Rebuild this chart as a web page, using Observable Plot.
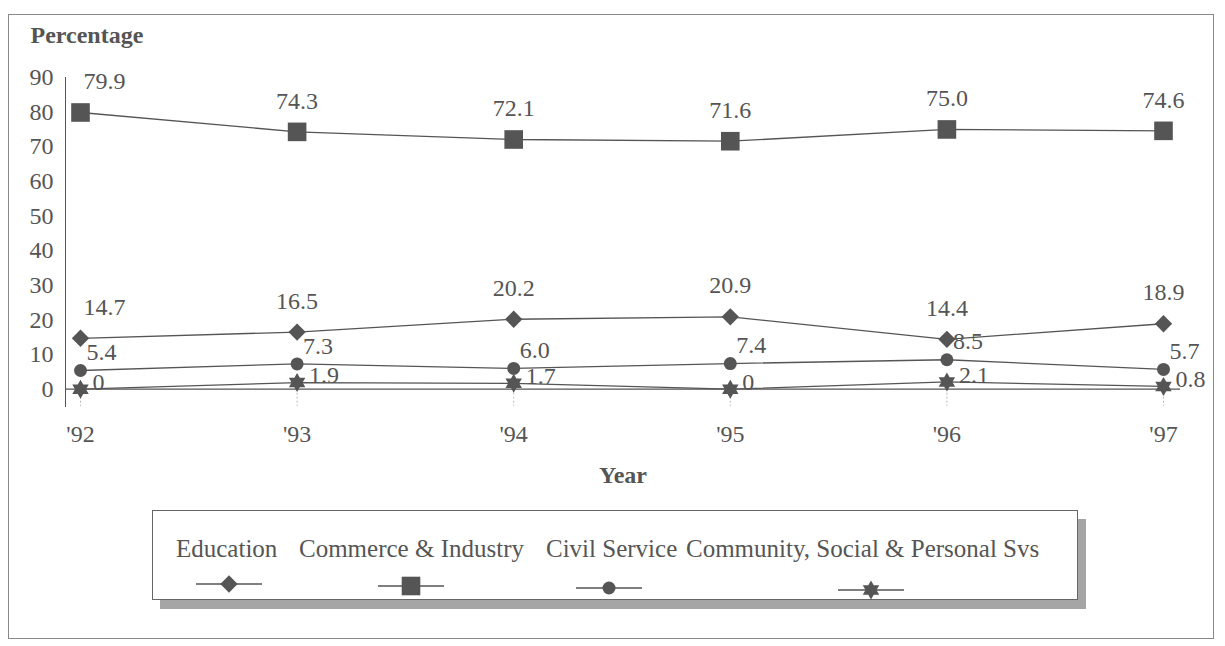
<!DOCTYPE html>
<html>
<head>
<meta charset="utf-8">
<script src="https://cdn.jsdelivr.net/npm/d3@7"></script>
<script src="https://cdn.jsdelivr.net/npm/@observablehq/plot@0.6"></script>
<style>
  html, body { margin: 0; padding: 0; background: #fff; }
  #wrap { position: relative; width: 1225px; height: 646px; overflow: hidden; font-family: "Liberation Serif", serif; color: #555; }
  #outer { position: absolute; left: 8px; top: 14px; width: 1206px; height: 625px; border: 1px solid #888; box-sizing: border-box; }
  #chart { position: absolute; left: 0; top: 0; }
  #legend { position: absolute; left: 152px; top: 510px; width: 926px; height: 90px; border: 1px solid #666; background: #fff; box-sizing: border-box; box-shadow: 8px 9px 0 #a5a5a5; }
  .lt { position: absolute; top: 24px; font-size: 25px; white-space: nowrap; line-height: 28px; color: #555; }
  .ls { position: absolute; top: 62px; }
</style>
</head>
<body>
<div id="wrap">
  <div id="outer"></div>
  <div id="chart"></div>
  <div id="legend"></div>
</div>
<script>
const years = [1992, 1993, 1994, 1995, 1996, 1997];
const yearLabels = ["'92", "'93", "'94", "'95", "'96", "'97"];
const seriesNames = ["Education", "Commerce & Industry", "Civil Service", "Community, Social & Personal Svs"];
const education = [14.7, 16.5, 20.2, 20.9, 14.4, 18.9];
const commerce = [79.9, 74.3, 72.1, 71.6, 75.0, 74.6];
const civil = [5.4, 7.3, 6.0, 7.4, 8.5, 5.7];
const community = [0, 1.9, 1.7, 0, 2.1, 0.8];
const yTicks = [0, 10, 20, 30, 40, 50, 60, 70, 80, 90];

const hexagram = {
  draw(ctx, size) {
    const R = Math.sqrt(size / Math.PI), r = R / Math.sqrt(3);
    for (let k = 0; k < 12; k++) {
      const a = -Math.PI / 2 + k * Math.PI / 6;
      const rad = k % 2 === 0 ? R : r;
      const x = rad * Math.cos(a), y = rad * Math.sin(a);
      if (k) ctx.lineTo(x, y); else ctx.moveTo(x, y);
    }
    ctx.closePath();
  }
};

const valuesBySeries = [education, commerce, civil, community];
const rows = seriesNames.flatMap((s, si) => years.map((yr, i) => ({series: s, year: yr, value: valuesBySeries[si][i]})));
const fmt = v => v === 0 ? "0" : v.toFixed(1);
const ink = "#555";

const styleSpec = [
  {symbol: "diamond2", r: 7.8},
  {symbol: "square", r: 10.5},
  {symbol: "circle", r: 6.5},
  {symbol: hexagram, r: 9.5}
];

const of = s => rows.filter(d => d.series === s);

const marks = [
  Plot.frame({anchor: "left", stroke: ink}),
  Plot.ruleX(years, {x: d => d, y1: 0, y2: -5, stroke: "#bbb", strokeDasharray: "2,2"}),
  Plot.ruleY([0], {stroke: ink, strokeWidth: 1.2}),
  Plot.axisX(years, {tickSize: 0, tickPadding: 18, tickFormat: d => yearLabels[years.indexOf(d)], label: null}),
  Plot.axisY(yTicks, {tickSize: 0, tickPadding: 12, label: null}),
  Plot.line(rows, {x: "year", y: "value", z: "series", stroke: ink, strokeWidth: 1.3}),
  ...seriesNames.map((s, si) => Plot.dot(of(s), {x: "year", y: "value", symbol: styleSpec[si].symbol, r: styleSpec[si].r, fill: ink, stroke: "none"})),
  // Commerce & Education labels above
  ...[seriesNames[0], seriesNames[1]].map(s => Plot.text(of(s).filter(d => d.year !== years[0]), {x: "year", y: "value", text: d => fmt(d.value), dy: -31, fill: ink})),
  ...[seriesNames[0], seriesNames[1]].map(s => Plot.text(of(s).filter(d => d.year === years[0]), {x: "year", y: "value", text: d => fmt(d.value), dy: -31, dx: 3, textAnchor: "start", fill: ink})),
  // Civil service labels
  Plot.text(of(seriesNames[2]), {x: "year", y: "value", text: d => fmt(d.value), dy: -18, dx: 21, fill: ink}),
  // Community labels to the right
  Plot.text(of(seriesNames[3]), {x: "year", y: "value", text: d => fmt(d.value), dy: -7, dx: 12, textAnchor: "start", fill: ink}),
  Plot.text(["Percentage"], {frameAnchor: "top-left", dx: -35, dy: -42, textAnchor: "start", lineAnchor: "middle", fontWeight: "bold", fill: ink}),
  Plot.text(["Year"], {frameAnchor: "bottom", dy: 69, lineAnchor: "middle", fontWeight: "bold", fill: ink})
];

const chart = Plot.plot({
  width: 1225,
  height: 500,
  marginLeft: 65,
  marginRight: 45,
  marginTop: 77,
  marginBottom: 94,
  insetLeft: 15,
  insetRight: 17,
  x: {domain: [1992, 1997], axis: null},
  y: {domain: [-5, 90], axis: null},
  style: {fontFamily: "Liberation Serif, serif", fontSize: "24px", color: ink, background: "transparent", overflow: "visible"},
  marks
});
document.getElementById("chart").appendChild(chart);

// Legend
const legend = document.getElementById("legend");
const textLeft = [23, 146, 393, 533];
const swatchCenter = [76, 258, 456, 718];
seriesNames.forEach((s, i) => {
  const t = document.createElement("div");
  t.className = "lt";
  t.style.left = textLeft[i] + "px";
  t.textContent = s;
  legend.appendChild(t);
  const w = 66, h = 26;
  const svg = d3.create("svg").attr("class", "ls").attr("width", w).attr("height", h)
    .style("left", (swatchCenter[i] - w / 2) + "px").style("top", (60 + i * 2) + "px");
  svg.append("line").attr("x1", 0).attr("x2", w).attr("y1", h / 2).attr("y2", h / 2).attr("stroke", ink).attr("stroke-width", 1.3);
  const r = styleSpec[i].r;
  const symType = {diamond2: d3.symbolDiamond2, square: d3.symbolSquare, circle: d3.symbolCircle}[styleSpec[i].symbol] || styleSpec[i].symbol;
  svg.append("path").attr("transform", `translate(${w / 2},${h / 2})`).attr("d", d3.symbol(symType, r * r * Math.PI)()).attr("fill", ink);
  legend.appendChild(svg.node());
});
</script>
</body>
</html>
